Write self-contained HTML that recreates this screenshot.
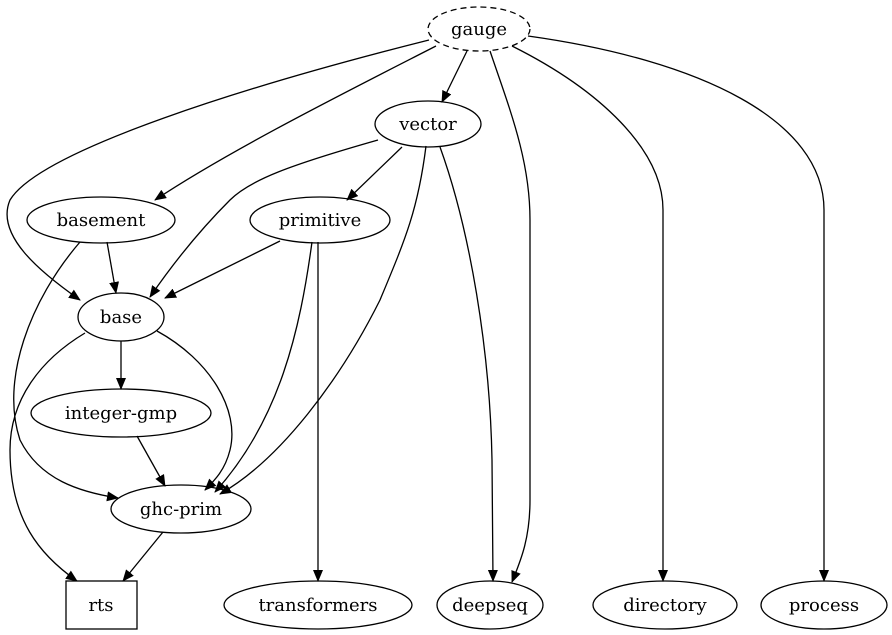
<!DOCTYPE html>
<html><head><style>
html,body{margin:0;padding:0;background:#fff;}
svg{display:block;}
text{font-family:"DejaVu Serif","Liberation Serif",serif;font-size:18px;fill:#000;text-anchor:middle;}
</style></head><body>
<svg width="892" height="635" viewBox="0 0 892 635" xmlns="http://www.w3.org/2000/svg">
<defs>
<marker id="a" markerWidth="12" markerHeight="10" refX="11" refY="5" orient="auto" markerUnits="userSpaceOnUse">
<path d="M0,0 L12,5 L0,10 Z" fill="#000"/>
</marker>
</defs>
<g fill="none" stroke="#000" stroke-width="1.3" marker-end="url(#a)">
<path d="M467,51 L442,102"/>
<path d="M436,46 C350,90 230,150 155,200"/>
<path d="M429,40 C250,85 40,150 10,200 C-5,235 40,272 80,300"/>
<path d="M490,51 C510,110 530,160 530,220 L530,500 C530,540 520,562 512,582"/>
<path d="M512,46 C600,90 663,150 663,210 L663,581"/>
<path d="M528,36 C700,60 824,120 824,210 L824,581"/>
<path d="M402,147 L347,200"/>
<path d="M378,140 C290,165 250,180 230,200 C200,230 172,265 150,297"/>
<path d="M426,146 C418,210 405,240 380,300 C340,380 280,460 220,494"/>
<path d="M440,147 C470,230 490,350 492,460 L493,581"/>
<path d="M107,242 L116,293"/>
<path d="M80,242 C30,300 0,380 20,440 C40,480 80,492 118,498"/>
<path d="M280,241 L165,298"/>
<path d="M312,242 C300,330 280,420 215,492"/>
<path d="M318,242 L318,581"/>
<path d="M121,341 L121,389"/>
<path d="M157,331 C210,360 240,410 230,450 C225,470 215,480 205,490"/>
<path d="M85,333 C40,360 10,400 10,450 C10,520 40,555 77,581"/>
<path d="M137,436 L165,486"/>
<path d="M163,532 L123,581"/>
</g>
<g fill="none" stroke="#000" stroke-width="1.3">
<ellipse cx="479" cy="29" rx="51" ry="22" stroke-dasharray="6,4"/>
<ellipse cx="428" cy="124" rx="53" ry="23"/>
<ellipse cx="101" cy="220" rx="74" ry="23"/>
<ellipse cx="320" cy="220" rx="70" ry="23"/>
<ellipse cx="121" cy="317" rx="43" ry="24"/>
<ellipse cx="121" cy="413" rx="90" ry="24"/>
<ellipse cx="181" cy="509" rx="70" ry="24"/>
<rect x="66" y="581" width="71" height="48"/>
<ellipse cx="318" cy="605" rx="94" ry="24"/>
<ellipse cx="490" cy="605" rx="53" ry="24"/>
<ellipse cx="665" cy="605" rx="72" ry="24"/>
<ellipse cx="824" cy="605" rx="63" ry="24"/>
</g>
<text x="479" y="35">gauge</text>
<text x="428" y="130">vector</text>
<text x="101" y="226">basement</text>
<text x="320" y="226">primitive</text>
<text x="121" y="323">base</text>
<text x="121" y="419">integer-gmp</text>
<text x="181" y="515">ghc-prim</text>
<text x="101" y="611">rts</text>
<text x="318" y="611">transformers</text>
<text x="490" y="611">deepseq</text>
<text x="665" y="611">directory</text>
<text x="824" y="611">process</text>
</svg>
</body></html>
